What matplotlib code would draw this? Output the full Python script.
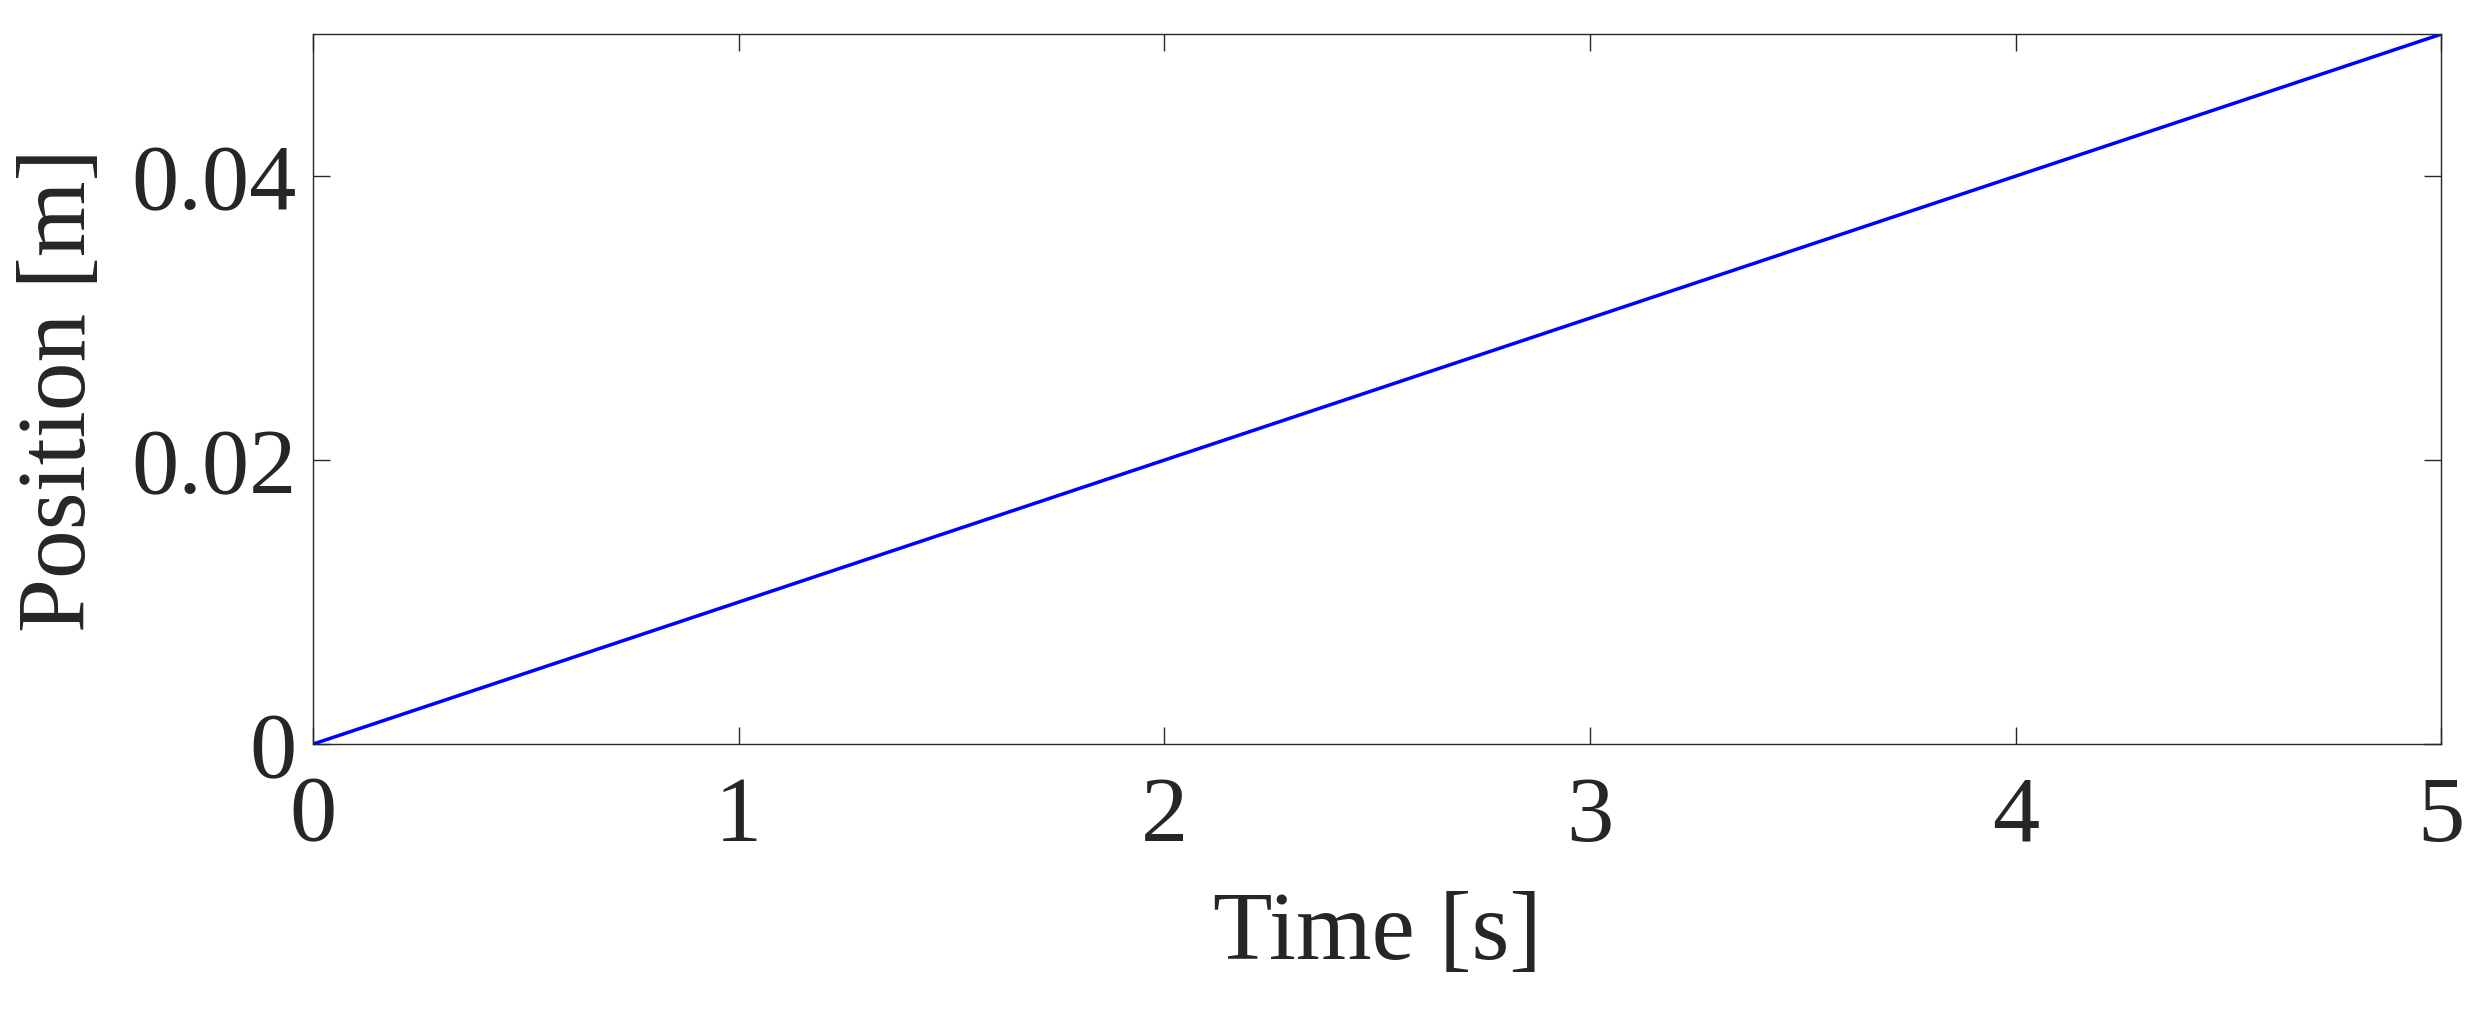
import matplotlib.pyplot as plt

time_s = [0, 1, 2, 3, 4, 5]
position_m = [0.0, 0.01, 0.02, 0.03, 0.04, 0.05]

plt.rcParams["font.family"] = ["Liberation Serif", "DejaVu Serif"]
txt = "#262626"

fig = plt.figure(figsize=(24.92, 10.2), dpi=100)
ax = fig.add_axes([0.1256, 0.2695, 0.854, 0.696])
ax.plot(time_s, position_m, color="blue", linewidth=2.5)
ax.set_xlim(0, 5)
ax.set_ylim(0, 0.05)
ax.set_xticks([0, 1, 2, 3, 4, 5])
ax.set_yticks([0, 0.02, 0.04])
ax.set_yticklabels(["0", "0.02", "0.04"])
ax.tick_params(direction="in", top=True, right=True, length=12, width=1,
               colors=txt, labelsize=68)
ax.tick_params(axis="x", pad=22)
ax.tick_params(axis="y", pad=12)
for s in ax.spines.values():
    s.set_color("#262626")
    s.set_linewidth(1)
ax.set_xlabel("Time [s]", fontsize=70, color=txt, labelpad=22)
ax.set_ylabel("Position [m]", fontsize=70, color=txt, labelpad=18)
plt.savefig("out.png")
